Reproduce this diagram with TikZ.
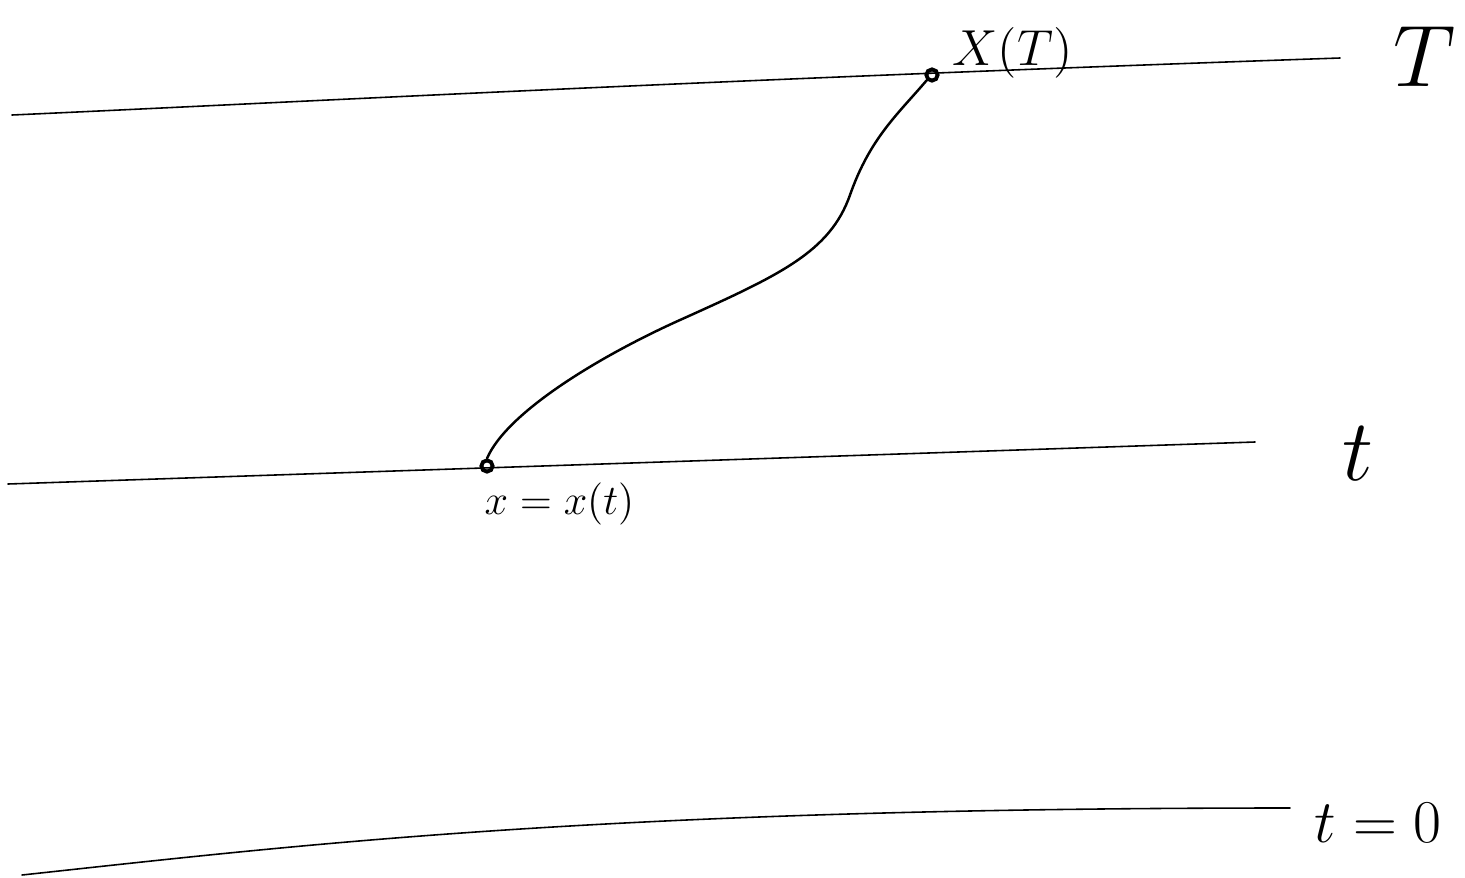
\documentclass[tikz,border=0pt]{standalone}
\begin{document}
\begin{tikzpicture}[x=0.01cm,y=-0.01cm,
  level/.style={line width=0.45pt,line cap=round},
  path/.style={line width=0.7pt,line cap=round,line join=round},
  dotmark/.style={circle,draw,line width=1.1pt,inner sep=0pt,minimum size=3.2pt},
  lbl/.style={inner sep=0pt}]
\useasboundingbox (0,0) rectangle (1465,878);
% level lines
\coordinate (Ta) at (12,115);
\coordinate (Tb) at (1340,58);
\coordinate (ta) at (8,484);
\coordinate (tb) at (1255,442);
\coordinate (za) at (22,875);
\coordinate (zb) at (1290,808);
\draw[level] (Ta) .. controls (300,102) and (700,80) .. (Tb);
\draw[level] (ta) -- (tb);
\draw[level] (za) .. controls (300,845) and (600,808) .. (zb);
% points
\node[dotmark] (xT) at (932,75) {};
\node[dotmark] (xt) at (487,466) {};
\coordinate (m1) at (680,320);
\coordinate (m2) at (850,195);
\draw[path] (xt.north) .. controls (507,412) and (600,356) .. (m1)
  .. controls (780,275) and (830,252) .. (m2)
  .. controls (870,138) and (898,114) .. (xT.south west);
% labels
\node[lbl,anchor=base west,font=\fontsize{15}{18}\selectfont] (lXT) at (952,65) {$X(T)$};
\node[lbl,anchor=base west,font=\fontsize{13}{16}\selectfont] (lxt) at (484,514) {$x=x(t)$};
\node[lbl,anchor=base,font=\fontsize{26}{30}\selectfont] (lT) at (1425,86) {$T$};
\node[lbl,anchor=base,font=\fontsize{25}{30}\selectfont] (lt) at (1358,480) {$t$};
\node[lbl,anchor=base west,font=\fontsize{16}{20}\selectfont] (l0) at (1314,842) {$t=0$};
\end{tikzpicture}
\end{document}
